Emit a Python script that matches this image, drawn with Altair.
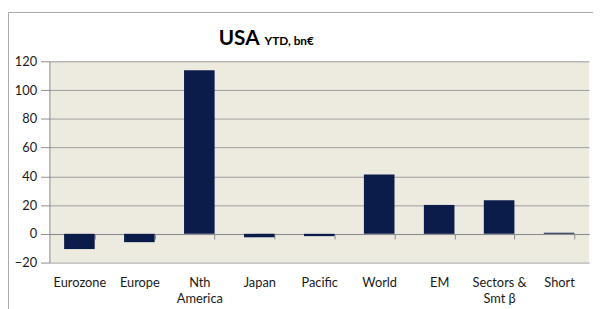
import altair as alt
import pandas as pd

categories = ["Eurozone", "Europe", "Nth America", "Japan", "Pacific", "World", "EM", "Sectors & Smt β", "Short"]
values = [-10.6, -5.8, 113.8, -2.4, -1.6, 41.3, 20.1, 23.4, 0.8]
y_ticks = [-20, 0, 20, 40, 60, 80, 100, 120]

FONT = "Lato"
df = pd.DataFrame({"cat": categories, "val": values})

label_expr = ("datum.label == 'Nth America' ? ['Nth', 'America'] : "
              "datum.label == 'Sectors & Smt β' ? ['Sectors &', 'Smt β'] : datum.label")

bars = alt.Chart(df).mark_bar(color="#0c1c4a").encode(
    x=alt.X("cat:N", sort=categories, title=None,
            scale=alt.Scale(paddingInner=0.49, paddingOuter=0.245),
            axis=alt.Axis(labelAngle=0, labelExpr=label_expr, offset=-28.9,
                          tickBand="extent", tickSize=5, tickColor="#8c8c8c",
                          domainColor="#8c8c8c", labelPadding=38, labelBaseline="top",
                          labelLineHeight=16, labelFont=FONT, labelFontSize=13,
                          labelColor="#1a1a1a", grid=False)),
    y=alt.Y("val:Q", title=None,
            scale=alt.Scale(domain=[-20, 120], nice=False, zero=False),
            axis=alt.Axis(values=y_ticks, tickSize=9, labelPadding=4,
                          tickColor="#8c8c8c", domainColor="#8c8c8c",
                          gridColor="#9c9c9c", gridWidth=1, labelFont=FONT,
                          labelFontSize=13, labelColor="#1a1a1a")),
)

frame = alt.Chart(pd.DataFrame({"a": [0]})).mark_rect(
    fill=None, stroke="#a8a8a8", strokeWidth=1, clip=False
).encode(x=alt.value(-41.5), x2=alt.value(620), y=alt.value(-49.5), y2=alt.value(320))

title_main = alt.Chart(pd.DataFrame({"t": ["USA"]})).mark_text(
    font=FONT, fontSize=21, fontWeight="bold", align="right", baseline="alphabetic",
    color="#000000"
).encode(text="t:N", x=alt.value(213), y=alt.value(-17))

title_sub = alt.Chart(pd.DataFrame({"t": ["YTD, bn€"]})).mark_text(
    font=FONT, fontSize=12, fontWeight="bold", align="left", baseline="alphabetic",
    color="#000000"
).encode(text="t:N", x=alt.value(218), y=alt.value(-17))

chart = alt.layer(bars, frame, title_main, title_sub).properties(
    width=547, height=204,
    autosize=alt.AutoSizeParams(type="none"),
    padding={"left": 42, "top": 52, "right": 4, "bottom": 45},
    background="white",
).configure_view(fill="#edeae0", stroke=None)

chart.save("out.html", embed_options={"renderer": "svg", "actions": False})
